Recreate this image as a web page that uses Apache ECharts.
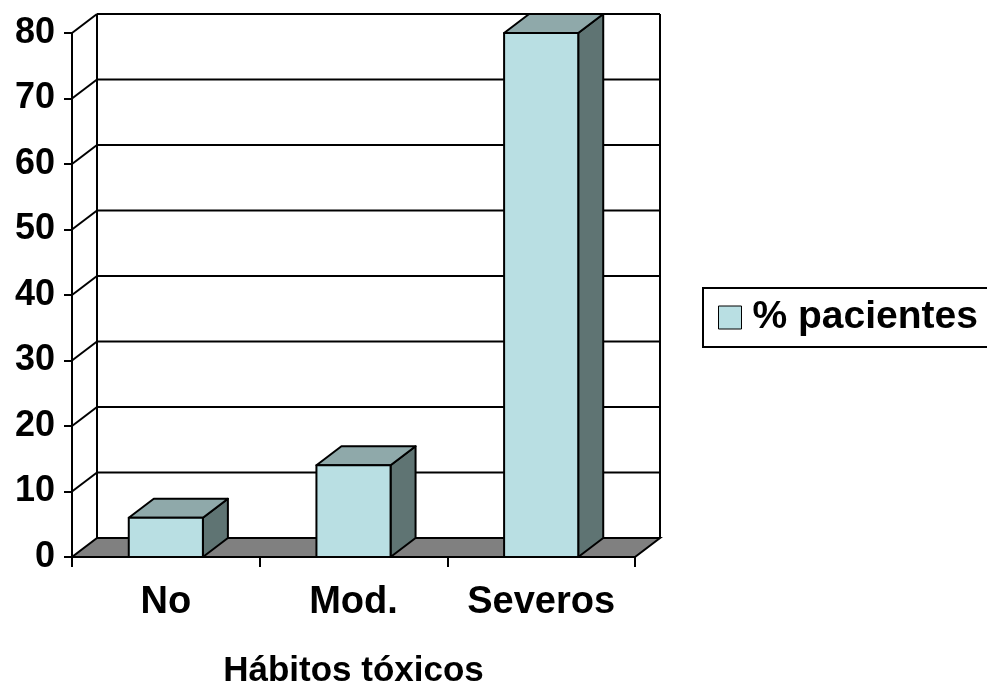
<!DOCTYPE html>
<html>
<head>
<meta charset="utf-8">
<script src="https://cdn.jsdelivr.net/npm/echarts@6/dist/echarts.min.js"></script>
<style>
  html, body { margin: 0; padding: 0; background: #ffffff; }
  #chart { width: 987px; height: 687px; }
</style>
</head>
<body>
<div id="chart"></div>
<script>
// Habitos toxicos: share of patients per category
const categories = ['No', 'Mod.', 'Severos'];
const pacientes = [6, 14, 80];
const yTicks = [0, 10, 20, 30, 40, 50, 60, 70, 80];
const seriesName = '% pacientes';

// depth offset of the 3D box (pixels)
const DX = 25, DY = 19;
const FONT = 'Liberation Sans, Arial, sans-serif';

const colFront = '#B9DFE3';
const colTop = '#8FA9AA';
const colSide = '#5F7473';
const colFloor = '#808080';

const chart = echarts.init(document.getElementById('chart'), null, { renderer: 'canvas' });

function renderWalls(params, api) {
  const cs = params.coordSys;
  const x0 = cs.x, x1 = cs.x + cs.width;
  const yb = api.coord([0, 0])[1];
  const ytop = api.coord([0, yTicks[yTicks.length - 1]])[1];
  const line = { stroke: '#000', lineWidth: 2 };
  const children = [];
  // floor
  children.push({
    type: 'polygon',
    shape: { points: [[x0, yb], [x1, yb], [x1 + DX, yb - DY], [x0 + DX, yb - DY]] },
    style: { fill: colFloor, stroke: '#000', lineWidth: 2 }
  });
  // back wall edges
  children.push({ type: 'line', shape: { x1: x0 + DX, y1: ytop - DY, x2: x0 + DX, y2: yb - DY }, style: line });
  children.push({ type: 'line', shape: { x1: x1 + DX, y1: ytop - DY, x2: x1 + DX, y2: yb - DY }, style: line });
  // gridlines: side-wall diagonal + back-wall horizontal
  yTicks.forEach(function (t) {
    if (t === 0) return;
    const y = api.coord([0, t])[1];
    children.push({ type: 'line', shape: { x1: x0, y1: y, x2: x0 + DX, y2: y - DY }, style: line });
    children.push({ type: 'line', shape: { x1: x0 + DX, y1: y - DY, x2: x1 + DX, y2: y - DY }, style: line });
  });
  return { type: 'group', children: children };
}

function renderBar(params, api) {
  const idx = api.value(0);
  const v = api.value(1);
  const base = api.coord([idx, 0]);
  const top = api.coord([idx, v]);
  const w = api.size([1, 0])[0] * 0.395;
  const xl = base[0] - w / 2, xr = base[0] + w / 2;
  const yb = base[1], yt = top[1];
  const st = { stroke: '#000', lineWidth: 2, lineJoin: 'round' };
  return {
    type: 'group',
    children: [
      { type: 'polygon', shape: { points: [[xr, yb], [xr + DX, yb - DY], [xr + DX, yt - DY], [xr, yt]] },
        style: Object.assign({ fill: colSide }, st) },
      { type: 'polygon', shape: { points: [[xl, yt], [xl + DX, yt - DY], [xr + DX, yt - DY], [xr, yt]] },
        style: Object.assign({ fill: colTop }, st) },
      { type: 'rect', shape: { x: xl, y: yt, width: w, height: yb - yt },
        style: Object.assign({ fill: colFront }, st) }
    ]
  };
}

const option = {
  backgroundColor: '#ffffff',
  animation: false,
  grid: { left: 72, top: 33, width: 563, height: 524, containLabel: false, outerBoundsMode: 'none' },
  legend: {
    left: 703,
    top: 288,
    orient: 'vertical',
    padding: [10, 30, 10, 15],
    borderColor: '#000',
    borderWidth: 2,
    itemWidth: 23,
    itemHeight: 23,
    itemGap: 0,
    data: [{ name: seriesName, icon: 'rect',
      itemStyle: { color: colFront, borderColor: '#000', borderWidth: 1 } }],
    textStyle: { fontFamily: FONT, fontWeight: 'bold', fontSize: 39, color: '#000', padding: [0, 0, 0, 6] }
  },
  xAxis: {
    type: 'category',
    data: categories,
    boundaryGap: true,
    name: 'Hábitos tóxicos',
    nameLocation: 'middle',
    nameGap: 97,
    nameTextStyle: { fontFamily: FONT, fontWeight: 'bold', fontSize: 35, color: '#000' },
    axisLine: { show: true, lineStyle: { color: '#000', width: 2 } },
    axisTick: { show: true, length: 10, lineStyle: { color: '#000', width: 2 } },
    axisLabel: { interval: 0, margin: 27, fontFamily: FONT, fontWeight: 'bold', fontSize: 38, color: '#000' },
    splitLine: { show: false }
  },
  yAxis: {
    type: 'value',
    min: 0,
    max: 80,
    interval: 10,
    axisLine: { show: true, lineStyle: { color: '#000', width: 2 } },
    axisTick: { show: true, length: 8, lineStyle: { color: '#000', width: 2 } },
    axisLabel: { margin: 17, padding: [6, 0, 0, 0], fontFamily: FONT, fontWeight: 'bold', fontSize: 36, color: '#000' },
    splitLine: { show: false }
  },
  series: [
    {
      type: 'custom',
      name: 'walls',
      silent: true,
      clip: false,
      z: 1,
      renderItem: renderWalls,
      data: [[0, 0]]
    },
    {
      type: 'custom',
      name: seriesName,
      clip: false,
      z: 2,
      itemStyle: { color: colFront },
      encode: { x: 0, y: 1 },
      renderItem: renderBar,
      data: categories.map(function (c, i) { return [i, pacientes[i]]; })
    }
  ]
};

chart.setOption(option);
</script>
</body>
</html>
